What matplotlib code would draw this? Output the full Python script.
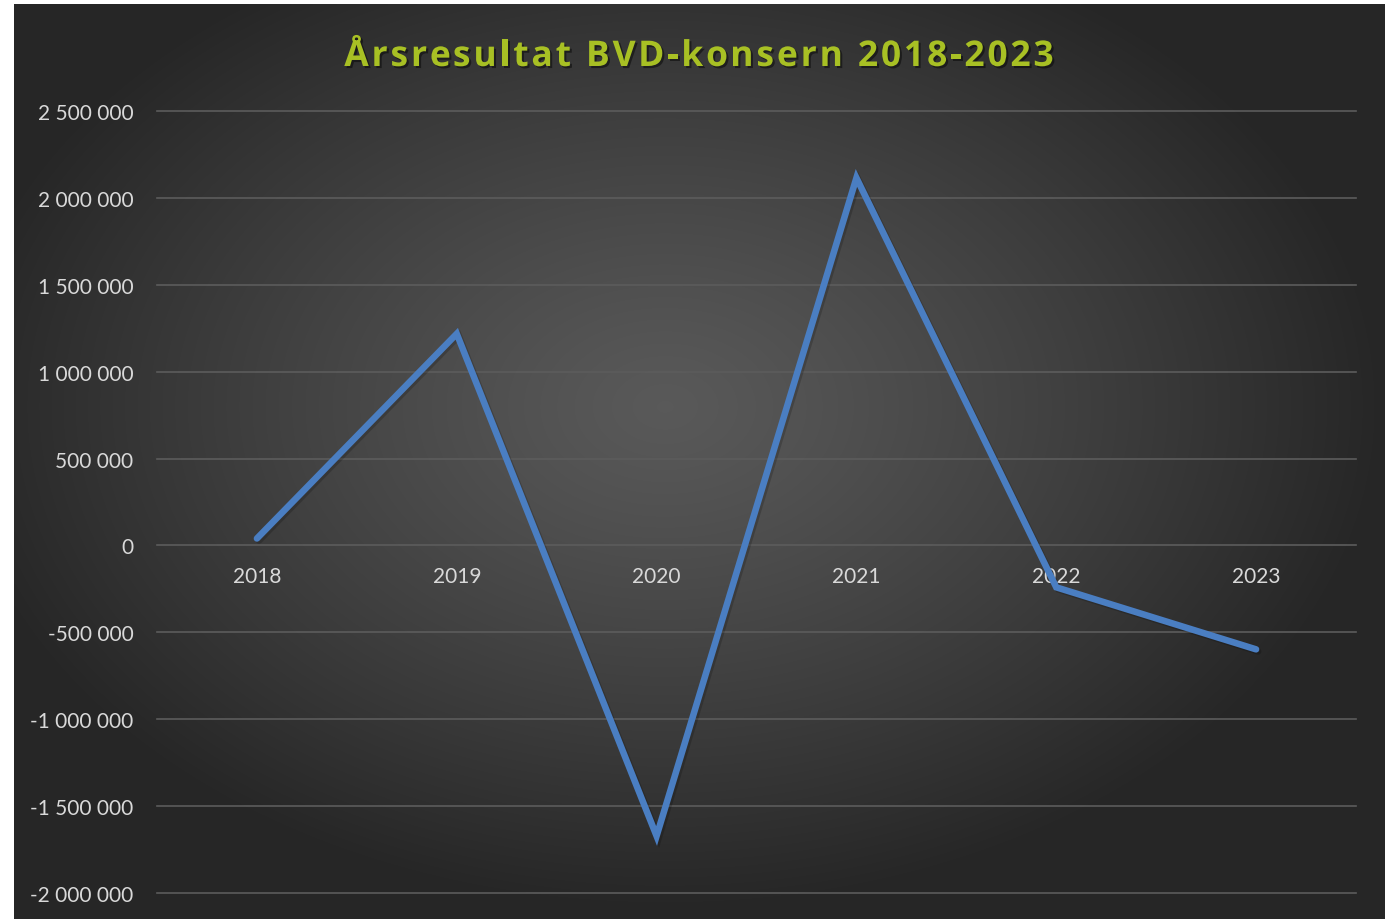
import numpy as np
import matplotlib
matplotlib.use('Agg')
import matplotlib.pyplot as plt
import matplotlib.patheffects as pe
from matplotlib.font_manager import FontProperties
from matplotlib.ticker import FuncFormatter


years = ['2018', '2019', '2020', '2021', '2022', '2023']
result = [40000, 1218000, -1672000, 2115000, -241000, -598000]
title = 'Årsresultat BVD-konsern 2018-2023'

W, H = 1385, 920
fig = plt.figure(figsize=(W / 100, H / 100), dpi=100)
fig.patch.set_facecolor('white')

# dark radial background of the chart box
bg = fig.add_axes([14 / W, 0, 1 - 14 / W, 1 - 5 / H])
bg.set_axis_off()
gx, gy = np.meshgrid(np.linspace(-1, 1, 400), np.linspace(-1, 1, 300))
r = np.sqrt(((gx + 0.05) / 1.05) ** 2 + ((gy + 0.12) / 1.1) ** 2)
r = np.clip(r, 0, 1)
shade = 0.35 - (0.35 - 0.15) * r ** 1.2
img = np.dstack([shade, shade, shade])
bg.imshow(img, aspect='auto', extent=[0, 1, 0, 1], interpolation='bilinear')

left, right = 157 / W, 1356 / W
top, bottom = 1 - 112 / H, 1 - 894 / H
ax = fig.add_axes([left, bottom, right - left, top - bottom])
ax.patch.set_alpha(0)

x = np.arange(len(years))
line, = ax.plot(x, result, color='#4a7ec2', linewidth=4.7, solid_joinstyle='miter',
                solid_capstyle='round', zorder=5)
line.set_path_effects([pe.SimpleLineShadow(offset=(1.5, -1.5), alpha=0.18, shadow_color='black'),
                       pe.Normal()])

ax.set_xlim(-0.5, len(years) - 0.5)
ax.set_ylim(-2000000, 2500000)
ticks = np.arange(-2000000, 2500001, 500000)
ax.set_yticks(ticks)
for t in ticks:
    ax.axhline(t, color='#5c5c5c', linewidth=1.2, clip_on=False, zorder=1)

ax.yaxis.set_major_formatter(FuncFormatter(
    lambda v, p: '{:,.0f}'.format(v).replace(',', ' ')))
ax.tick_params(axis='y', length=0, pad=17, labelsize=15, labelcolor='#d9d9d9')
ax.set_xticks([])
for lbl in ax.get_yticklabels():
    lbl.set_family('Lato')
for s in ax.spines.values():
    s.set_visible(False)

for i, yr in enumerate(years):
    ax.annotate(yr, xy=(i, 0), xytext=(0, -31), textcoords='offset pixels',
                ha='center', va='center', fontsize=15, color='#d9d9d9',
                family='Lato', zorder=3)

# title with letter spacing, drawn char by char
tprop = FontProperties(family='Open Sans', weight='bold', size=25.5)
renderer = fig.canvas.get_renderer()
spacing = 2.9  # px between letters
adv = [renderer.get_text_width_height_descent(title[:i], tprop, ismath=False)[0]
       if i else 0.0 for i in range(len(title) + 1)]
total = adv[-1] + spacing * (len(title) - 1)
x0 = 699 - total / 2
for i, ch in enumerate(title):
    if ch == ' ':
        continue
    px = x0 + adv[i] + spacing * i
    fig.text(px / W, 1 - 67 / H, ch, ha='left', va='baseline',
             fontproperties=tprop, color='#a8c024',
             path_effects=[pe.SimplePatchShadow(offset=(1.5, -1.5), alpha=0.45,
                                                shadow_rgbFace='black'),
                           pe.Normal()])

fig.savefig('out.png', dpi=100, facecolor='white')
